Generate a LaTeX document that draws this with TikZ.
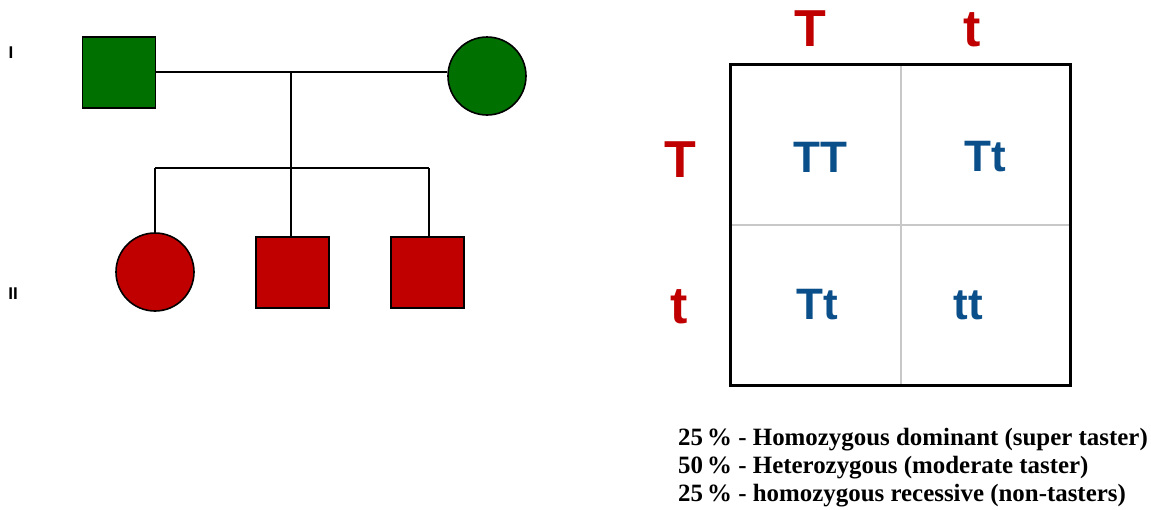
\documentclass[tikz,border=0pt]{standalone}
\usepackage{fontspec}
\setmainfont{Liberation Serif}
\setsansfont{Liberation Sans}
\definecolor{pgreen}{HTML}{007000}
\definecolor{pred}{HTML}{C00000}
\definecolor{pblue}{HTML}{0B4F8A}
\definecolor{pgray}{HTML}{C8C8C8}
\tikzset{
  male/.style={draw=black, line width=1.6pt, minimum width=73pt, minimum height=71pt, inner sep=0pt},
  female/.style={draw=black, line width=1.6pt, circle, minimum size=78pt, inner sep=0pt},
  link/.style={draw=black, line width=1.3pt},
  gen/.style={font=\sffamily\bfseries\fontsize{17}{17}\selectfont},
  allele/.style={text=pred, font=\sffamily\bfseries\fontsize{52}{52}\selectfont, inner sep=0pt},
  geno/.style={text=pblue, font=\sffamily\bfseries\fontsize{44}{44}\selectfont, inner sep=0pt},
  legend/.style={anchor=base west, inner sep=0pt, font=\bfseries\fontsize{24.9}{24.9}\selectfont},
}
\begin{document}
\begin{tikzpicture}[x=1pt, y=-1pt]
\useasboundingbox (0,0) rectangle (1151,509);
% generation labels
\node[gen] (g1) at (11,53) {I};
\node[gen] (g2) at (13,294) {II};
% pedigree
\node[male, fill=pgreen] (f) at (119,72.5) {};
\node[female, fill=pgreen] (m) at (487,76) {};
\coordinate (mid) at (291,72);
\coordinate (sib) at (291,168);
\node[female, fill=pred] (c1) at (155,272) {};
\node[male, fill=pred] (c2) at (292.5,272.5) {};
\node[male, fill=pred] (c3) at (427.5,272.5) {};
\coordinate (s1) at (155,168);
\coordinate (s3) at (429,168);
\draw[link] (f.east |- mid) -- (m.west |- mid);
\draw[link] (mid) -- (sib);
\draw[link] (s1) -- (s3);
\draw[link] (s1) -- (c1.north);
\draw[link] (sib) -- (sib |- c2.north);
\draw[link] (s3) -- (s3 |- c3.north);
% Punnett square
\coordinate (pnw) at (730,64);
\coordinate (pse) at (1070,385);
\draw[pgray, line width=1.8pt] (901,64) -- (901,385);
\draw[pgray, line width=1.8pt] (730,225) -- (1070,225);
\draw[black, line width=3pt] (pnw) rectangle (pse);
\node[allele] (aT1) at (810,29) {T};
\node[allele] (at1) at (972,30) {t};
\node[allele] (aT2) at (680,160) {T};
\node[allele] (at2) at (679,307) {t};
\node[geno] (tt11) at (820,157) {TT};
\node[geno] (tt12) at (985,157) {Tt};
\node[geno] (tt21) at (817,305) {Tt};
\node[geno] (tt22) at (968,305) {tt};
% legend
\node[legend] (l1) at (678,445) {25\,\% - Homozygous dominant (super taster)};
\node[legend] (l2) at (678,473) {50\,\% - Heterozygous (moderate taster)};
\node[legend] (l3) at (678,501) {25\,\% - homozygous recessive (non-tasters)};
\end{tikzpicture}
\end{document}
